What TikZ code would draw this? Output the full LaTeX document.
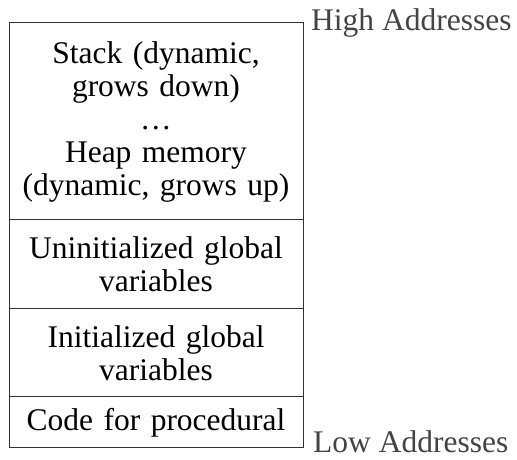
\documentclass[tikz,border=0pt]{standalone}
\usepackage{fontspec}
\setmainfont{Liberation Serif}
\definecolor{linegray}{HTML}{333333}
\definecolor{labelgray}{HTML}{444444}
\begin{document}
\begin{tikzpicture}[x=1pt,y=1pt,
  seg/.style={draw=linegray, line width=1pt, minimum width=294pt, inner sep=0pt,
    text width=290pt, align=center, font=\fontsize{31.5}{33}\selectfont},
  lbl/.style={anchor=base west, text=labelgray, inner sep=0pt,
    font=\fontsize{31.5}{33}\selectfont}]
\useasboundingbox (0,0) rectangle (517,460);
\node[seg, minimum height=197pt] (stack) at (156,338.5)
  {Stack (dynamic,\\grows down)\\…\\Heap memory\\(dynamic, grows up)};
\node[seg, minimum height=89pt] (uninit) at (156,195.5)
  {Uninitialized global\\variables};
\node[seg, minimum height=88pt] (init) at (156,107)
  {Initialized global\\variables};
\node[seg, minimum height=51pt] (code) at (156,37.5)
  {Code for procedural};
\node[lbl] (high) at (311,429) {High Addresses};
\node[lbl] (low) at (313,7) {Low Addresses};
\end{tikzpicture}
\end{document}
